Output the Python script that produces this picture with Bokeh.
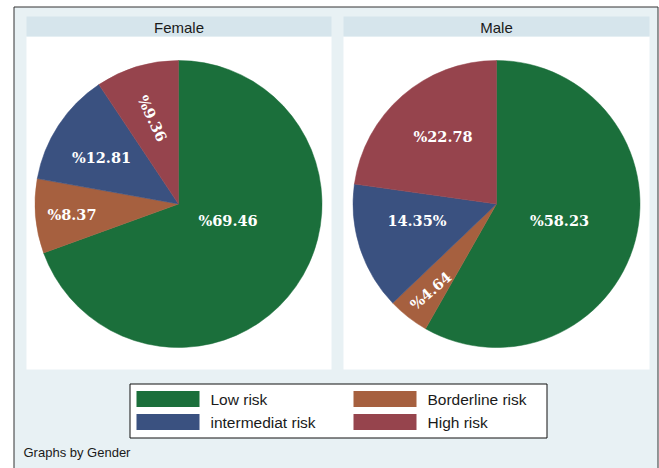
import math
from bokeh.plotting import figure
from bokeh.models import Range1d
from bokeh.core.properties import value
from bokeh.embed import file_html
from bokeh.resources import INLINE

# ---------------- data ----------------
categories = ["Low risk", "Borderline risk", "intermediat risk", "High risk"]
panels = ["Female", "Male"]
female_values = [69.46, 8.37, 12.81, 9.36]
male_values = [58.23, 4.64, 14.35, 22.78]
female_labels = ["%69.46", "%8.37", "%12.81", "%9.36"]
male_labels = ["%58.23", "%4.64", "14.35%", "%22.78"]
footer_note = "Graphs by Gender"

# ---------------- styles / layout ----------------
colors = ["#1b6f3b", "#a6603f", "#3a5180", "#96444d"]
BG = "#e8f1f4"
HEADER = "#d6e5ec"
W, H = 659, 468

def Y(py):
    return H - py

p = figure(width=W, height=H, x_range=Range1d(0, W), y_range=Range1d(0, H),
           output_backend="svg", toolbar_location=None, min_border=0,
           x_axis_location=None, y_axis_location=None)
p.grid.visible = False
p.outline_line_color = None
p.background_fill_color = "white"
p.border_fill_color = "white"

# outer frame
p.quad(left=13.5, right=657.5, top=Y(6.5), bottom=Y(470), fill_color=BG,
       line_color="#333333", line_width=1)

panel_boxes = [(26, 331), (343, 649)]
pie_centers = [(178, 203.5), (496, 203.5)]
R = 143.5

# label layout (radius fraction, angle offset deg, rotation deg)
label_layout = {
    "Female": ([0.364, 0.746, 0.627, 0.623], [-16.6, -0.7, -2.1, 0.0], [0, 0, 0, -65]),
    "Male": ([0.454, 0.758, 0.566, 0.60], [0.0, -0.7, 6.1, 2.6], [0, 41, 0, 0]),
}

all_values = {"Female": female_values, "Male": male_values}
all_labels = {"Female": female_labels, "Male": male_labels}

for name, (x0, x1), (cx, cy) in zip(panels, panel_boxes, pie_centers):
    # panel background + header strip
    p.quad(left=x0, right=x1, top=Y(36), bottom=Y(369), fill_color="white", line_color=None)
    p.quad(left=x0, right=x1, top=Y(16), bottom=Y(36), fill_color=HEADER, line_color=None)
    p.text(x=[(x0 + x1) / 2], y=[Y(26.5)], text=[name], text_align="center",
           text_baseline="middle", text_font=value("Liberation Sans"),
           text_font_size="15px", text_color="#1a1a1a")

    vals = all_values[name]
    total = sum(vals)
    starts, ends, mids = [], [], []
    cum = 0.0
    for v in vals:
        a0 = math.pi / 2 - 2 * math.pi * cum / total
        cum += v
        a1 = math.pi / 2 - 2 * math.pi * cum / total
        starts.append(a0)
        ends.append(a1)
        mids.append((a0 + a1) / 2)
    p.wedge(x=cx, y=Y(cy), radius=R, start_angle=starts, end_angle=ends,
            direction="clock", fill_color=colors, line_color=colors, line_width=0.5)

    fr, off, rot = label_layout[name]
    lx, ly, la = [], [], []
    for m, f, o, r in zip(mids, fr, off, rot):
        ang = m - math.radians(o)
        lx.append(cx + f * R * math.cos(ang))
        ly.append(Y(cy) + f * R * math.sin(ang))
        la.append(math.radians(r))
    p.text(x=lx, y=ly, text=all_labels[name], angle=la, text_align="center",
           text_baseline="middle", text_font=value("DejaVu Serif"),
           text_font_style="bold", text_font_size="14.5px", text_color="white")

# legend
p.quad(left=129.5, right=546.5, top=Y(383.5), bottom=Y(437.5), fill_color="white",
       line_color="#111111", line_width=1)
leg_cols = [136, 353]
leg_rows = [398.5, 421.5]
order = [(0, 0, 0), (1, 1, 0), (2, 0, 1), (3, 1, 1)]  # (category idx, col, row)
sx, sy, tx, ty, sc, st = [], [], [], [], [], []
for ci, c, r in order:
    sx.append(leg_cols[c] + 31.5)
    sy.append(Y(leg_rows[r]))
    sc.append(colors[ci])
    tx.append(leg_cols[c] + 74)
    ty.append(Y(leg_rows[r]))
    st.append(categories[ci])
p.rect(x=sx, y=sy, width=63, height=16, fill_color=sc, line_color=None)
p.text(x=tx, y=ty, text=st, text_align="left", text_baseline="middle",
       text_font=value("Liberation Sans"), text_font_size="15.5px", text_color="#1a1a1a")

p.text(x=[23], y=[Y(452)], text=[footer_note], text_align="left", text_baseline="middle",
       text_font=value("Liberation Sans"), text_font_size="13px", text_color="#1a1a1a")

open("out.html", "w").write(file_html(p, INLINE))
